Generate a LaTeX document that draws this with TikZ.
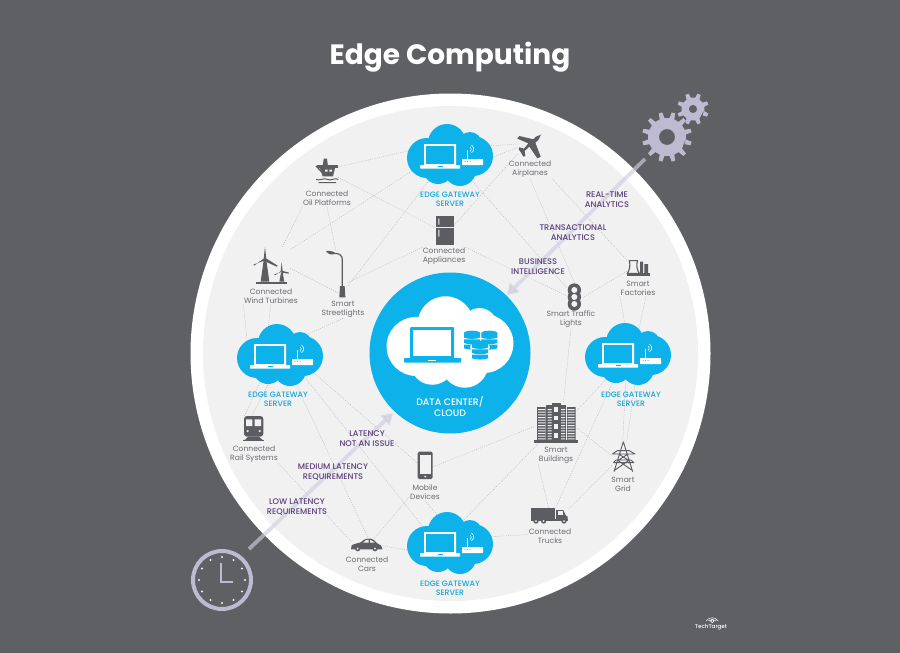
\documentclass[tikz,border=0pt]{standalone}
\usepackage{fontspec}
\setmainfont{Poppins}
\newfontfamily\pmed{Poppins Medium}
\usetikzlibrary{shapes.geometric,arrows.meta}
\definecolor{bgc}{HTML}{5F6064}
\definecolor{disc}{HTML}{F1F1F2}
\definecolor{cy}{HTML}{0DB2EA}
\definecolor{cyt}{HTML}{1AA5D2}
\definecolor{pur}{HTML}{5A3E7C}
\definecolor{ico}{HTML}{5C5D61}
\definecolor{lab}{HTML}{6B6C70}
\definecolor{lav}{HTML}{BDBAD2}
\definecolor{arw}{HTML}{CFCDDD}
\definecolor{dotc}{HTML}{BDBEC1}
\newcommand{\cloudlobes}{(-23,3) circle (20) (23,1) circle (20) (-3,-12) circle (19) (20,-11) circle (12) (-12,14) circle (15) (10,15) circle (16) (0,2) circle (20)}
\tikzset{
  spot/.style={inner sep=0pt,outer sep=0pt},
  hub/.style={spot,ellipse,minimum width=70,minimum height=46},
  dots/.style={draw=dotc,line width=0.5pt,dash pattern=on 1pt off 1.2pt},
  lbl/.style={text=lab,align=center,inner sep=0.5pt,yshift=-1pt,font=\fontsize{7.6}{9}\selectfont},
  edgetxt/.style={text=cyt,align=center,inner sep=0pt,yshift=-1pt,font=\pmed\fontsize{7.8}{9}\selectfont},
  purtxt/.style={text=pur,align=center,inner sep=0pt,yshift=-1pt,font=\pmed\fontsize{8.2}{10}\selectfont},
  arrowline/.style={arw,opacity=0.65,line width=3.8,-{Triangle[width=13,length=11]}},
  edgecloud/.pic={
    \fill[cy] \cloudlobes;
    \fill[white,rounded corners=0.7] (-26,-11) rectangle (6,10.5);
    \fill[cy] (-24,-9) rectangle (4,9);
    \fill[white,rounded corners=0.5] (-30,10) rectangle (10,13.5);
    \fill[cy] (-12,11) rectangle (-7,12);
    \fill[white,rounded corners=0.4] (12,4) rectangle (33,10);
    \fill[cy] (15,6.5) circle (0.5) (17.5,6.5) circle (0.5) (20,6.5) circle (0.5);
    \draw[white,line width=0.8] (17,-5) -- (17,4);
    \draw[white,line width=0.6] (20,-8) arc[start angle=-60,end angle=60,radius=2.5];
    \draw[white,line width=0.6] (21.5,-10) arc[start angle=-60,end angle=60,radius=4.5];
  }
}
\newcommand{\cogwheel}[6]{%
  \begin{scope}[shift={(#1,#2)}]
  \fill[lav,even odd rule] (0,0) circle (#5)
    (0:#4)
    \foreach \i in {1,...,#6}{
      -- ({\i*360/#6+90/#6}:#4)
      -- ({\i*360/#6+130/#6}:#3)
      -- ({\i*360/#6+230/#6}:#3)
      -- ({\i*360/#6+270/#6}:#4)
    } -- cycle;
  \end{scope}}
\newcommand{\dbstack}[2]{%
  \fill[cy] (#1-24,#2-6) -- (#1+24,#2-6) -- (#1+24,#2+8) .. controls (#1+12,#2+13) and (#1-12,#2+13) .. (#1-24,#2+8) -- cycle;
  \fill[cy] (#1,#2-6) ellipse (24 and 7);
  \fill[cy] (#1-24,#2+13) -- (#1+24,#2+13) -- (#1+24,#2+24) .. controls (#1+12,#2+29) and (#1-12,#2+29) .. (#1-24,#2+24) -- cycle;
  \fill[cy] (#1-24,#2+29) -- (#1+24,#2+29) -- (#1+24,#2+40) .. controls (#1+12,#2+45) and (#1-12,#2+45) .. (#1-24,#2+40) -- cycle;}
\begin{document}
\begin{tikzpicture}[x=1pt,y=-1pt]
\useasboundingbox (0,0) rectangle (900,653);
\fill[bgc] (0,0) rectangle (900,653);
\node[spot,circle,fill=white,minimum size=520] (outer) at (450.5,353.5) {};
\node[spot,circle,fill=disc,minimum size=495] (inner) at (450.5,353.5) {};
\node[text=white,inner sep=0pt,font=\fontsize{28}{30}\selectfont\bfseries] (title) at (450,57) {Edge Computing};

% anchor boxes of the devices
\node[spot,minimum width=22,minimum height=24] (oil) at (327,171) {};
\node[spot,minimum width=24,minimum height=24] (plane) at (530,145) {};
\node[spot,minimum width=18,minimum height=29] (fridge) at (445,230.5) {};
\node[spot,minimum width=36,minimum height=36] (turb) at (272,265) {};
\node[spot,minimum width=20,minimum height=46] (street) at (338,274) {};
\node[spot,minimum width=16,minimum height=28] (traffic) at (574.5,297) {};
\node[spot,minimum width=23,minimum height=18] (factory) at (638.5,267) {};
\node[spot,minimum width=42,minimum height=41] (build) at (556,422.5) {};
\node[spot,minimum width=24,minimum height=30] (grid) at (624,457) {};
\node[spot,minimum width=15,minimum height=27] (mobile) at (425.5,465.5) {};
\node[spot,minimum width=20,minimum height=26] (train) at (254,429) {};
\node[spot,minimum width=31,minimum height=13] (car) at (367,544.5) {};
\node[spot,minimum width=37,minimum height=16] (truck) at (550,516) {};
\node[hub] (tc) at (450,155) {};
\node[hub] (rc) at (628,354) {};
\node[hub] (lc) at (280,355) {};
\node[hub] (bc) at (450,543) {};

% labels
\node[lbl] (oilL) at (327,197.5) {Connected\\Oil Platforms};
\node[lbl] (planeL) at (530,168.5) {Connected\\Airplanes};
\node[lbl] (fridgeL) at (444,255.5) {Connected\\Appliances};
\node[lbl] (turbL) at (271,295.5) {Connected\\Wind Turbines};
\node[lbl] (streetL) at (343,308.5) {Smart\\Streetlights};
\node[lbl] (trafficL) at (571,318.5) {Smart Traffic\\Lights};
\node[lbl] (factoryL) at (638,287.5) {Smart\\Factories};
\node[lbl] (buildL) at (556,454.5) {Smart\\Buildings};
\node[lbl] (gridL) at (623,483) {Smart\\Grid};
\node[lbl] (mobileL) at (425,491.5) {Mobile\\Devices};
\node[lbl] (trainL) at (254,453.5) {Connected\\Rail Systems};
\node[lbl] (carL) at (367,563) {Connected\\Cars};
\node[lbl] (truckL) at (550,535.5) {Connected\\Trucks};

% connectors
\draw[dots] (tc.170) -- (oil.20);
\draw[dots] (oil.-30) -- (fridge.165);
\draw[dots] (tc.200) -- (turb.40);
\draw[dots] (tc.230) -- (street.-50);
\draw[dots] (oilL.south west) -- (turb.60);
\draw[dots] (oilL.south) -- (street.95);
\draw[dots] (turb.-10) -- (street.-70);
\draw[dots] (fridgeL.north west) -- (street.-40);
\draw[dots] (tc.15) -- (plane.175);
\draw[dots] (tc.-10) -- (plane.190);
\draw[dots] (fridge.30) -- (plane.215);
\draw[dots] (tc.-50) -- (traffic.130);
\draw[dots] (fridgeL.north east) -- (traffic.170);
\draw[dots] (planeL.south) -- (traffic.90);
\draw[dots] (planeL.south east) -- (factory.150);
\draw[dots] (traffic.-5) -- (factory.-160);
\draw[dots] (factoryL.south west) -- (rc.95);
\draw[dots] (factoryL.south) ++(8,0) coordinate (fa) (fa) -- (rc.65);
\draw[dots] (trafficL.south) -- (build.70);
\draw[dots] (build.30) -- (rc.230);
\draw[dots] (truck.55) -- (rc.240);
\draw[dots] (rc.-95) -- (grid.95);
\draw[dots] (rc.-70) -- (grid.80);
\draw[dots] (build.-15) -- (grid.175);
\draw[dots] (buildL.south west) -- (truck.100);
\draw[dots] (grid.215) -- (truck.20);
\draw[dots] (bc.10) -- (truckL.175);
\draw[dots] (bc.60) -- (build.-130);
\draw[dots] (mobile.-10) -- (build.-170);
\draw[dots] (mobileL.south) -- (bc.110);
\draw[dots] (lc.-25) -- (mobile.165);
\draw[dots] (lc.-40) -- (bc.150);
\draw[dots] (lc.-60) -- (car.80);
\draw[dots] (trainL.south east) -- (car.170);
\draw[dots] (car.-5) -- (bc.195);
\draw[dots] (car.40) -- (mobileL.195);
\draw[dots] (lc.-110) -- (train.100);
\draw[dots] (lc.-130) -- (train.130);
\draw[dots] (streetL.south) -- (lc.40);
\draw[dots] (turbL.south) -- (lc.120);
\draw[dots] (turbL.south west) -- (lc.165);

% time and analytics arrows
\coordinate (ga) at (645,159);
\coordinate (gb) at (507,295);
\coordinate (ca) at (249,549);
\coordinate (cb) at (393,413);
\draw[arrowline] (ga) -- (gb);
\draw[arrowline] (ca) -- (cb);

% gears
\cogwheel{667}{137}{25}{19}{8}{12}
\cogwheel{693}{109}{16}{11.5}{4.2}{8}

% clock
\node[spot,circle,draw=lav,line width=4,fill=bgc,minimum size=58] (clock) at (222,580) {};
\begin{scope}[shift={(222,580)}]
\foreach \a in {0,30,...,330}{\fill[disc] (\a:23) circle (1.1);}
\end{scope}
\draw[lav,line width=2.6,line join=miter] (221,563) -- (221,582) -- (233,582);

% central hub
\node[spot,circle,fill=cy,minimum size=161] (dc) at (450,353) {};
\begin{scope}[shift={(450,342)},scale=1.475]
  \fill[white] \cloudlobes;
\end{scope}
\fill[cy,rounded corners=1] (410,327) rectangle (454,359);
\fill[white] (413,330) rectangle (451,356);
\fill[cy,rounded corners=0.6] (404,358) rectangle (461,362.5);
\fill[white] (428,359.5) rectangle (436,360.5);
\begin{scope}[shift={(360,290)},scale=1/3]
  \dbstack{336}{135}
  \dbstack{388}{135}
  \fill[white] (360,172) ellipse (30 and 14);
  \dbstack{360}{165}
\end{scope}

% edge clouds
\pic at (tc) {edgecloud};
\pic at (rc) {edgecloud};
\pic at (lc) {edgecloud};
\pic at (bc) {edgecloud};

% oil platform, fridge, turbines, street light
\begin{scope}[shift={(240,100)},scale=1/3,ico]
  \fill (232,196) rectangle (293,204);
  \fill (248,200) -- (251,176) -- (261,176) -- (264,200) -- cycle;
  \fill (240,204) -- (285,204) -- (279,229) -- (248,229) -- cycle;
  \fill[disc] (255,209) rectangle (263,215) (268,209) rectangle (276,215);
  \draw[line width=1.3] (228,198) -- (255,226);
  \draw[line width=1] (228,238) .. controls (240,244) and (250,232) .. (262,238) .. controls (272,244) and (284,232) .. (295,238);
  \draw[line width=1] (236,248) .. controls (246,252) and (254,244) .. (264,248) .. controls (272,252) and (280,244) .. (288,248);
  \fill (587,348) rectangle (643,380);
  \fill (587,383) rectangle (643,435);
  \fill[disc] (595,356) rectangle (598,374) (595,389) rectangle (598,410);
  \fill (71,480) -- (79,480) -- (88,545) -- (62,545) -- cycle;
  \fill (75,440) -- (79,478) -- (71,478) -- cycle;
  \fill (75,473) -- (113,497) -- (110,500) -- (71,482) -- cycle;
  \fill (75,473) -- (42,497) -- (40,494) -- (78,480) -- cycle;
  \fill (123,518) -- (128,518) -- (133,545) -- (118,545) -- cycle;
  \fill (125,486) -- (128,515) -- (122,515) -- cycle;
  \fill (125,512) -- (147,518) -- (146,521) -- (124,518) -- cycle;
  \fill (125,512) -- (105,526) -- (103,523) -- (124,516) -- cycle;
  \fill (47,545) rectangle (140,552);
  \draw[line width=1.2] (307,560) -- (307,480) .. controls (307,465) and (298,460) .. (282,460);
  \fill (258,453) .. controls (270,451) and (282,455) .. (287,460) .. controls (278,467) and (264,464) .. (258,453);
  \fill (300,558) -- (314,558) -- (316,592) -- (298,592) -- cycle;
\end{scope}

% airplane, factory, traffic light
\begin{scope}[shift={(500,90)},scale=1/3,ico]
  \fill (123,134) -- (115,150) -- (106,158) -- (122,200) -- (112,205) -- (88,170) -- (74,183) -- (76,198) -- (70,200) -- (62,186) -- (56,178) -- (58,172) -- (72,176) -- (85,160) -- (52,146) -- (58,138) -- (100,148) -- (108,140) -- cycle;
  \draw[line width=1.1,fill=disc] (388,512) -- (412,512) .. controls (408,530) and (412,540) .. (418,550) -- (382,550) .. controls (388,540) and (392,530) .. (388,512) -- cycle;
  \fill (420,515) rectangle (429,550) (433,522) rectangle (444,550);
  \fill (380,550) rectangle (450,557);
  \fill[rounded corners=2] (213,585) rectangle (233,660);
  \fill (223,600) circle (20) (223,621) circle (20) (223,642) circle (20);
  \fill[disc] (223,600) circle (9) (223,621) circle (9) (223,642) circle (9);
\end{scope}

% building
\begin{scope}[shift={(525,395)},scale=1/3,ico]
  \fill (80,24) rectangle (108,32);
  \fill (64,30) rectangle (124,136);
  \fill (36,36) rectangle (62,136) (126,36) rectangle (152,136);
  \fill (28,136) rectangle (158,145);
  \foreach \y in {42,50,...,130}{\fill[disc] (39,\y) rectangle (60,\y+3) (128,\y) rectangle (149,\y+3) (68,\y) rectangle (80,\y+3) (108,\y) rectangle (120,\y+3);}
  \foreach \y in {36,62,...,122}{\fill[disc] (88,\y) rectangle (100,\y+14);}
\end{scope}

% grid, mobile
\begin{scope}[shift={(360,290)},scale=1/3,ico]
  \draw[line width=0.9,line join=round] (790,455) -- (762,545) (790,455) -- (818,545)
     (772,482) -- (808,482) (757,492) -- (772,482) (808,482) -- (825,492) (757,492) -- (825,492)
     (768,510) -- (812,510) (760,518) -- (768,510) (812,510) -- (822,518) (760,518) -- (822,518)
     (776,492) -- (804,510) (804,492) -- (776,510) (772,510) -- (815,540) (808,510) -- (765,540);
  \fill[rounded corners=1.5] (173,485) rectangle (218,567);
  \fill[disc] (179,495) rectangle (212,553);
  \fill[disc] (195.5,560) circle (3);
\end{scope}

% train, car
\begin{scope}[shift={(180,320)},scale=1/3,ico]
  \fill[rounded corners=3] (192,288) rectangle (250,350);
  \fill[disc] (198,298) rectangle (217,318) (224,298) rectangle (243,318);
  \fill[disc] (203,333) circle (3.5) (239,333) circle (3.5);
  \fill (205,350) -- (237,350) -- (250,362) -- (192,362) -- cycle;
  \fill (190,360) rectangle (253,364);
  \fill (513,688) -- (515,676) .. controls (525,670) and (535,670) .. (542,667) .. controls (552,655) and (572,652) .. (582,660) -- (592,670) .. controls (600,672) and (606,678) .. (607,688) -- cycle;
  \fill[disc] (549,668) .. controls (554,660) and (563,659) .. (566,659) -- (566,668) -- cycle;
  \fill[disc] (570,668) -- (570,660) .. controls (575,660) and (580,664) .. (584,668) -- cycle;
  \fill (533,686) circle (8) (585,686) circle (8);
  \fill[disc] (533,686) circle (3) (585,686) circle (3);
\end{scope}

% truck and TechTarget mark
\begin{scope}[shift={(400,440)},scale=1/3,ico]
  \fill (393,203) rectangle (465,238);
  \fill (468,210) -- (490,210) -- (497,226) -- (503,230) -- (503,240) -- (468,240) -- cycle;
  \fill[disc] (474,214) rectangle (488,226);
  \fill (393,238) rectangle (505,243);
  \fill (408,243) circle (8) (431,243) circle (8) (492,243) circle (8);
  \fill[disc] (408,243) circle (3) (431,243) circle (3) (492,243) circle (3);
  \draw[white,line width=0.5] (918,543) .. controls (928,530) and (945,530) .. (955,543);
  \draw[white,line width=0.5] (925,543) .. controls (932,537) and (942,537) .. (949,543);
  \draw[white,line width=0.6] (937,543) circle (5);
\end{scope}
\node[text=white,inner sep=0pt,font=\pmed\fontsize{5.6}{6}\selectfont] (tt) at (711,627) {TechTarget};

% hub and latency texts
\node[text=white,align=center,inner sep=0pt,font=\pmed\fontsize{9.4}{11}\selectfont] (dcL) at (450,406.5) {DATA CENTER/\\CLOUD};
\node[edgetxt] (tcL) at (450,198.5) {EDGE GATEWAY\\SERVER};
\node[edgetxt] (rcL) at (631,398.5) {EDGE GATEWAY\\SERVER};
\node[edgetxt] (lcL) at (278,398.5) {EDGE GATEWAY\\SERVER};
\node[edgetxt] (bcL) at (450,587.5) {EDGE GATEWAY\\SERVER};
\node[purtxt] (p1) at (607,199) {REAL-TIME\\ANALYTICS};
\node[purtxt] (p2) at (573,232) {TRANSACTIONAL\\ANALYTICS};
\node[purtxt] (p3) at (538,266) {BUSINESS\\INTELLIGENCE};
\node[purtxt] (p4) at (367,438) {LATENCY\\NOT AN ISSUE};
\node[purtxt] (p5) at (333,471) {MEDIUM LATENCY\\REQUIREMENTS};
\node[purtxt] (p6) at (297,506) {LOW LATENCY\\REQUIREMENTS};
\end{tikzpicture}
\end{document}
